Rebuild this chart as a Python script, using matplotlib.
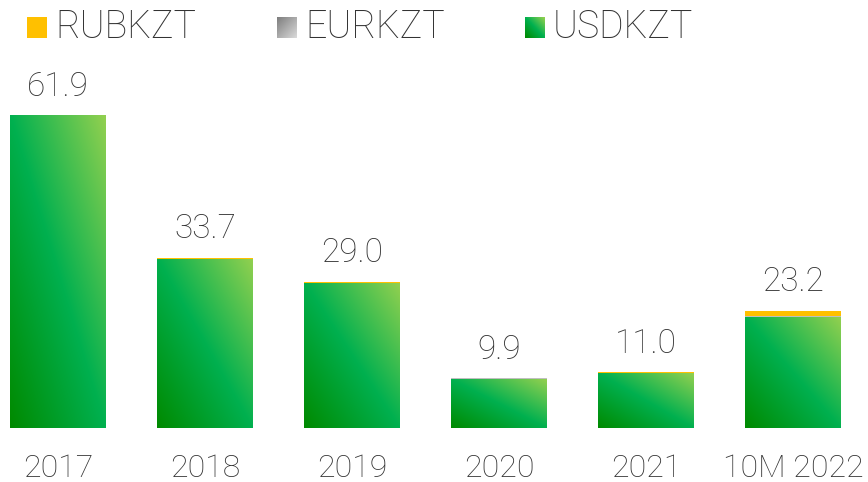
import matplotlib
matplotlib.use("Agg")
import matplotlib.pyplot as plt
import numpy as np
from matplotlib.colors import LinearSegmentedColormap
from matplotlib.patches import Rectangle

# Currency pair volumes, stacked per period
periods = ["2017", "2018", "2019", "2020", "2021", "10M 2022"]
usdkzt = [61.9, 33.5, 28.8, 9.7, 10.8, 21.9]
eurkzt = [0.0, 0.0, 0.0, 0.2, 0.0, 0.2]
rubkzt = [0.0, 0.2, 0.2, 0.0, 0.2, 1.1]
totals = [61.9, 33.7, 29.0, 9.9, 11.0, 23.2]

plt.rcParams["font.family"] = ["Roboto", "DejaVu Sans"]
plt.rcParams["font.weight"] = "light"
text_color = "#333333"

green_cmap = LinearSegmentedColormap.from_list(
    "usd", ["#008a00", "#00b04f", "#92d050"])
grey_cmap = LinearSegmentedColormap.from_list(
    "eur", ["#7f7f7f", "#d9d9d9"])

fig = plt.figure(figsize=(8.68, 4.82), dpi=100)
ax = fig.add_axes([0, 0, 1, 1])
ax.axis("off")

x = np.arange(len(periods))
width = 0.653

# diagonal gradient, dark at bottom-left, light at top-right
gy, gx = np.mgrid[0:1:200j, 0:1:100j]
grad = (gx + gy) / 2.0

usd_bars = ax.bar(x, usdkzt, width, color="none", edgecolor="none")
for bar in usd_bars:
    x0, y0 = bar.get_x(), bar.get_y()
    im = ax.imshow(grad, cmap=green_cmap, origin="lower", aspect="auto",
                   extent=[x0, x0 + bar.get_width(), y0, y0 + bar.get_height()],
                   interpolation="bilinear", vmin=0, vmax=1)
    im.set_clip_path(bar)

bottom2 = np.array(usdkzt)
ax.bar(x, eurkzt, width, bottom=bottom2, color="#bfbfbf", edgecolor="none")
bottom3 = bottom2 + np.array(eurkzt)
ax.bar(x, rubkzt, width, bottom=bottom3, color="#ffc000", edgecolor="none")

for xi, t in zip(x, totals):
    ax.annotate(f"{t:.1f}", (xi, t), xytext=(0, 20.5), textcoords="offset points",
                ha="center", va="center", fontsize=24, color=text_color)

for xi, lab in zip(x, periods):
    ax.text(xi, -8.0, lab, ha="center", va="center", fontsize=23,
            color=text_color)

ax.set_xlim(-0.3946, 5.5102)
ax.set_ylim(-10.7, 84.75)

# legend drawn by hand: swatch + label
W, H = 868.0, 482.0
legend_items = [("RUBKZT", "rub", 27), ("EURKZT", "eur", 277), ("USDKZT", "usd", 525)]
sy, sx = np.mgrid[0:1:20j, 0:1:20j]
sq_grad = (sx + sy) / 2.0
for label, kind, px in legend_items:
    sax = fig.add_axes([px / W, 1 - 38 / H, 20 / W, 21 / H])
    sax.axis("off")
    if kind == "rub":
        sax.add_patch(Rectangle((0, 0), 1, 1, color="#ffc000"))
        sax.set_xlim(0, 1)
        sax.set_ylim(0, 1)
    elif kind == "eur":
        sax.imshow((sx + (1 - sy)) / 2.0, cmap=grey_cmap, aspect="auto",
                   origin="lower", extent=[0, 1, 0, 1])
    else:
        sax.imshow(sq_grad, cmap=green_cmap, aspect="auto", origin="lower",
                   extent=[0, 1, 0, 1])
    fig.text((px + 28) / W, 1 - 27 / H, label, ha="left", va="center",
             fontsize=27, color=text_color)

fig.savefig("out.png", dpi=100)
